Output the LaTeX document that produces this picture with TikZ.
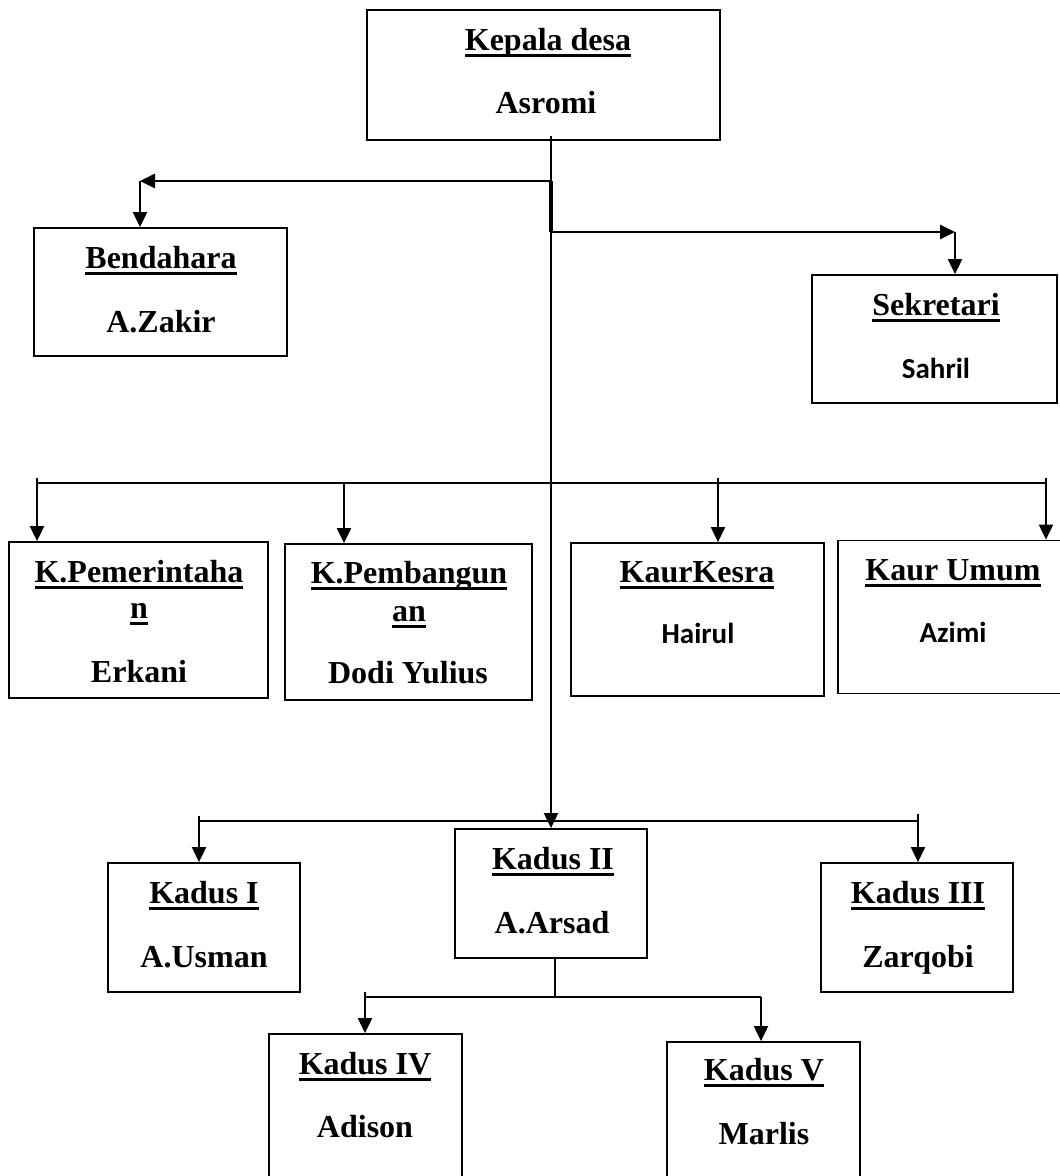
\documentclass[tikz,border=0pt]{standalone}
\usepackage{fontspec}
\setmainfont{Liberation Serif}
\newfontfamily\calfont{Carlito}
\usetikzlibrary{arrows.meta,calc}
\newcommand{\ulhd}[1]{\setbox0=\hbox{#1}\rlap{\rule[-7pt]{\wd0}{3pt}}\box0}
\begin{document}
\begin{tikzpicture}[x=1pt,y=-1pt,
  box/.style={draw,line width=1.8pt,inner sep=0pt},
  hd/.style={font=\fontsize{32}{38}\selectfont\bfseries,anchor=base,inner sep=0pt},
  sn/.style={font=\calfont\fontsize{29}{34}\selectfont\bfseries,anchor=base,inner sep=0pt},
  ln/.style={line width=2pt},
  thk/.style={line width=2.8pt},
  arr/.style={-{Triangle[length=15pt,width=14pt]}}]
\useasboundingbox (0,0) rectangle (1060,1176);
\clip (0,0) rectangle (1060,1176);
\fill[white] (0,0) rectangle (1060,1176);

% boxes
\node[box,minimum width=353,minimum height=130] (kepala) at (543.5,75) {};
\node[box,minimum width=253,minimum height=128] (bendahara) at (160.5,292) {};
\node[box,minimum width=245,minimum height=128] (sekretari) at (934.5,339) {};
\node[box,minimum width=259,minimum height=156] (pemerintahan) at (138.5,620) {};
\node[box,minimum width=247,minimum height=156] (pembangunan) at (408.5,622) {};
\node[box,minimum width=253,minimum height=153] (kesra) at (697.5,619.5) {};
\node[box,minimum width=250,minimum height=153] (umum) at (963,617) {};
\node[box,minimum width=192,minimum height=129] (kadus1) at (204,927.5) {};
\node[box,minimum width=192,minimum height=129] (kadus2) at (551,893.5) {};
\node[box,minimum width=192,minimum height=129] (kadus3) at (917,927.5) {};
\node[box,minimum width=193,minimum height=160] (kadus4) at (365.5,1114) {};
\node[box,minimum width=193,minimum height=160] (kadus5) at (763.5,1122) {};

% texts
\node[hd] (t-kepala) at (548,50) {\ulhd{Kepala desa}};
\node[hd] (n-kepala) at (546,113) {Asromi};
\node[hd] (t-bend) at (161,268) {\ulhd{Bendahara}};
\node[hd] (n-bend) at (161,332) {A.Zakir};
\node[hd] (t-sek) at (936,315) {\ulhd{Sekretari}};
\node[sn] (n-sek) at (936,378) {Sahril};
\node[hd] (t-pem1) at (139,582) {\ulhd{K.Pemerintaha}};
\node[hd] (t-pem2) at (139,618) {\ulhd{n}};
\node[hd] (n-pem) at (139,682) {Erkani};
\node[hd] (t-pbg1) at (409,583) {\ulhd{K.Pembangun}};
\node[hd] (t-pbg2) at (409,621) {\ulhd{an}};
\node[hd] (n-pbg) at (408,683) {Dodi Yulius};
\node[hd] (t-kesra) at (697,582) {\ulhd{KaurKesra}};
\node[sn] (n-kesra) at (698,643) {Hairul};
\node[hd] (t-umum) at (953,580) {\ulhd{Kaur Umum}};
\node[sn] (n-umum) at (953,642) {Azimi};
\node[hd] (t-k1) at (204,903) {\ulhd{Kadus I}};
\node[hd] (n-k1) at (204,967) {A.Usman};
\node[hd] (t-k2) at (553,869) {\ulhd{Kadus II}};
\node[hd] (n-k2) at (552,933) {A.Arsad};
\node[hd] (t-k3) at (918,903) {\ulhd{Kadus III}};
\node[hd] (n-k3) at (918,967) {Zarqobi};
\node[hd] (t-k4) at (365,1074) {\ulhd{Kadus IV}};
\node[hd] (n-k4) at (365,1137) {Adison};
\node[hd] (t-k5) at (764,1080) {\ulhd{Kadus V}};
\node[hd] (n-k5) at (764,1144) {Marlis};

% junction coordinates
\coordinate (jL) at (551,181);
\coordinate (bL) at (140,181);
\coordinate (jR) at (551,232);
\coordinate (sR) at (955,232);
\coordinate (kaL) at (37,483);
\coordinate (kaB) at (344,483);
\coordinate (kaC) at (718,483);
\coordinate (kaR) at (1046,483);
\coordinate (dL) at (199,821);
\coordinate (dR) at (918,821);
\coordinate (sJ) at (555,997);
\coordinate (s4) at (365,997);
\coordinate (s5) at (761,997);

% connectors
\draw[ln,arr] ([yshift=5pt]kepala.south -| kadus2.north) -- (kadus2.north);
\draw[thk,arr] (jL) -- (bL);
\draw[ln,arr] (bL) -- (bL |- bendahara.north);
\draw[line width=4pt] (jL) -- (jR);
\draw[thk,arr] (jR) -- (sR);
\draw[ln,arr] (sR) -- (sR |- sekretari.north);

\draw[ln] (kaL) -- (kaR);
\draw[ln,arr] ([yshift=5pt]kaL) -- (kaL |- pemerintahan.north);
\draw[ln,arr] (kaB) -- (kaB |- pembangunan.north);
\draw[ln,arr] ([yshift=5pt]kaC) -- (kaC |- kesra.north);
\draw[ln,arr] ([yshift=5pt]kaR) -- (kaR |- umum.north);

\draw[ln] (dL) -- (dR);
\draw[ln,arr] ([yshift=5pt]dL) -- (dL |- kadus1.north);
\draw[ln,arr] ([yshift=7pt]dR) -- (dR |- kadus3.north);

\draw[line width=1.2pt] (kadus2.south -| sJ) -- (sJ);
\draw[ln] ([yshift=5pt]s4) -- (s4) -- (s5);
\draw[ln,arr] (s4) -- (s4 |- kadus4.north);
\draw[ln,arr] (s5) -- (s5 |- kadus5.north);
\end{tikzpicture}
\end{document}
